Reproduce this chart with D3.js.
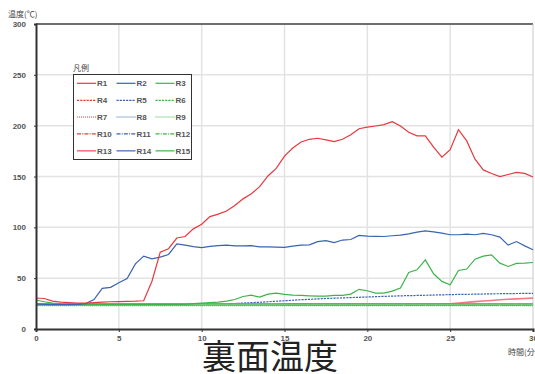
<!DOCTYPE html>
<html>
<head>
<meta charset="utf-8">
<script src="https://cdn.jsdelivr.net/npm/d3@7"></script>
<style>
  html, body { margin: 0; padding: 0; background: #fff; }
  svg { display: block; }
  text { font-family: "Liberation Sans", Arial, sans-serif; }
  .cjk { font-family: "Noto Sans CJK JP", "Noto Sans CJK SC", sans-serif; }
</style>
</head>
<body>
<svg id="chart" width="535" height="374"></svg>
<script>
// time (minutes)
const minutes = [0,0.5,1,1.5,2,2.5,3,3.5,4,4.5,5,5.5,6,6.5,7,7.5,8,8.5,9,9.5,10,10.5,11,11.5,12,12.5,13,13.5,14,14.5,15,15.5,16,16.5,17,17.5,18,18.5,19,19.5,20,20.5,21,21.5,22,22.5,23,23.5,24,24.5,25,25.5,26,26.5,27,27.5,28,28.5,29,29.5,30];

// temperature readings (°C) per sensor
const R1 = [30.5,30,27.5,26.5,26,25.5,25.5,26,26.5,26.8,27,27.2,27.4,27.8,47,75.6,79,89.5,91,98.5,103,110.5,113,116,121.5,128,133,140,150.5,158,170,178,184,186.6,187.6,186,184.3,186.6,191,197,198.5,199.7,201,204,199.7,193.5,190,190,179,169,176.4,196,185,167,156.5,153,150,152,154,153,149.5];
const R2 = [24.5,24.2,24,24,24,24.2,25,29,40,41,45.5,49.7,64,71.7,69,70.7,73.3,83.8,82.5,81,80,81.2,82,82.5,81.7,81.7,82,80.8,80.8,80.5,80.3,81.5,82.5,82.8,86,87,85,87.5,88,92,91.3,91.2,91,91.7,92.3,93.6,95.3,96.6,95.6,94.3,92.7,92.7,93.3,92.7,94,92.7,90.4,82.5,86,81.8,78];
const R3 = [28.5,26.8,25.5,24.8,24.5,24.3,24.2,24.2,24.2,24.2,24.2,24.2,24.2,24.2,24.2,24.2,24.2,24.2,24.3,25,25.5,26,26.5,27.5,29,32,33.3,31.3,34.3,35.3,34,33.3,33,32.6,32.3,32.3,33,33,34.3,39,37.6,35.3,35.3,37.3,40.3,55.6,58.2,68,54.3,46.8,43.5,57.6,59,68.7,71.7,73,64.8,61.5,64.5,64.8,65.4];
const R4 = [24.2,24.1,24,24,24,24,24,24,24,24,24,24,24,24,24,24,24,24,24,24,24,24,24,24,24,24,24,24,24,24,24,24,24,24,24.1,24.1,24.1,24.1,24.1,24.1,24.1,24.1,24.1,24.1,24.1,24.1,24.1,24.1,24.1,24.1,24.1,24.1,24.2,24.2,24.2,24.2,24.2,24.2,24.2,24.2,24.2];
const R5 = [23.8,23.8,23.8,23.8,23.8,23.8,23.8,23.8,23.8,23.8,23.8,23.8,23.8,23.8,23.8,23.8,23.9,23.9,24,24,24.1,24.3,24.5,24.8,25.1,25.5,25.9,26.3,26.8,27.3,27.8,28.3,28.8,29.2,29.6,30,30.3,30.6,30.9,31.2,31.5,31.8,32.1,32.3,32.6,32.8,33,33.2,33.4,33.6,33.8,34,34.1,34.3,34.4,34.6,34.7,34.8,34.9,35,35.1];
const R6 = [23.2,23.2,23.2,23.2,23.2,23.2,23.2,23.2,23.2,23.2,23.2,23.2,23.2,23.2,23.2,23.2,23.2,23.2,23.2,23.2,23.2,23.2,23.2,23.2,23.2,23.2,23.2,23.2,23.2,23.2,23.3,23.3,23.3,23.3,23.3,23.3,23.3,23.3,23.3,23.3,23.3,23.3,23.3,23.3,23.3,23.3,23.3,23.3,23.3,23.3,23.3,23.3,23.3,23.3,23.3,23.3,23.3,23.3,23.3,23.3,23.3];
const R7 = [23.9,23.9,23.8,23.8,23.8,23.8,23.8,23.8,23.8,23.8,23.8,23.8,23.8,23.8,23.8,23.8,23.8,23.8,23.8,23.8,23.8,23.8,23.8,23.8,23.8,23.8,23.8,23.8,23.8,23.8,23.8,23.8,23.8,23.8,23.8,23.8,23.8,23.8,23.8,23.8,23.9,23.9,23.9,23.9,23.9,23.9,23.9,23.9,23.9,23.9,23.9,23.9,23.9,23.9,23.9,23.9,23.9,23.9,23.9,23.9,23.9];
const R8 = [23.6,23.6,23.6,23.6,23.6,23.6,23.6,23.6,23.6,23.6,23.6,23.6,23.6,23.6,23.6,23.6,23.6,23.6,23.6,23.6,23.6,23.6,23.6,23.6,23.6,23.6,23.6,23.6,23.6,23.6,23.7,23.7,23.7,23.7,23.7,23.7,23.7,23.7,23.7,23.7,23.7,23.7,23.7,23.7,23.7,23.7,23.7,23.7,23.7,23.7,23.7,23.7,23.7,23.7,23.7,23.7,23.7,23.7,23.7,23.7,23.7];
const R9 = [23,23,23,23,23,23,23,23,23,23,23,23,23,23,23,23,23,23,23,23,23,23,23,23,23,23,23,23,23,23,23,23,23,23,23,23,23,23,23,23,23,23,23,23,23,23,23,23,23,23,23,23,23,23,23,23,23,23,23,23,23];
const R10 = [24.3,24.3,24.2,24.2,24.2,24.2,24.2,24.2,24.2,24.2,24.2,24.2,24.2,24.2,24.2,24.2,24.2,24.2,24.2,24.2,24.2,24.2,24.2,24.2,24.2,24.2,24.2,24.2,24.2,24.2,24.3,24.3,24.3,24.3,24.3,24.3,24.3,24.3,24.3,24.3,24.3,24.3,24.3,24.3,24.3,24.3,24.3,24.3,24.3,24.3,24.3,24.3,24.3,24.3,24.3,24.3,24.3,24.3,24.3,24.3,24.3];
const R11 = [23.9,23.9,23.9,23.9,23.9,23.9,23.9,23.9,23.9,23.9,23.9,23.9,23.9,23.9,23.9,23.9,23.9,23.9,23.9,23.9,23.9,23.9,23.9,23.9,23.9,23.9,23.9,23.9,23.9,23.9,24,24,24,24,24,24,24,24,24,24,24,24,24,24,24,24,24,24,24,24,24,24,24,24,24,24,24,24,24,24,24];
const R12 = [23.4,23.4,23.4,23.4,23.4,23.4,23.4,23.4,23.4,23.4,23.4,23.4,23.4,23.4,23.4,23.4,23.4,23.4,23.4,23.4,23.4,23.4,23.4,23.4,23.4,23.4,23.4,23.4,23.4,23.4,23.4,23.4,23.4,23.4,23.4,23.4,23.4,23.4,23.4,23.4,23.4,23.4,23.4,23.4,23.4,23.4,23.4,23.4,23.4,23.4,23.4,23.4,23.4,23.4,23.4,23.4,23.4,23.4,23.4,23.4,23.4];
const R13 = [24.8,24.7,24.6,24.6,24.6,24.6,24.6,24.6,24.6,24.6,24.6,24.6,24.6,24.6,24.6,24.6,24.6,24.6,24.6,24.6,24.6,24.6,24.6,24.6,24.6,24.6,24.6,24.6,24.6,24.6,24.6,24.6,24.6,24.6,24.6,24.6,24.6,24.6,24.6,24.6,24.6,24.6,24.6,24.6,24.6,24.6,24.6,24.6,24.6,24.7,24.9,25.5,26.2,26.9,27.5,28.1,28.7,29.2,29.6,30,30.4];
const R14 = [24.4,24.4,24.4,24.4,24.4,24.4,24.4,24.4,24.4,24.4,24.4,24.4,24.4,24.4,24.4,24.4,24.4,24.4,24.4,24.4,24.4,24.4,24.4,24.4,24.4,24.4,24.4,24.4,24.4,24.4,24.5,24.5,24.5,24.5,24.5,24.5,24.5,24.5,24.5,24.5,24.5,24.5,24.5,24.5,24.5,24.5,24.5,24.5,24.5,24.5,24.5,24.5,24.5,24.5,24.5,24.5,24.5,24.5,24.5,24.5,24.5];
const R15 = [23.7,23.7,23.7,23.7,23.7,23.7,23.7,23.7,23.7,23.7,23.7,23.7,23.7,23.7,23.7,23.7,23.7,23.7,23.7,23.7,23.7,23.7,23.7,23.7,23.7,23.7,23.7,23.7,23.7,23.7,23.8,23.8,23.8,23.8,23.8,23.8,23.8,23.8,23.8,23.8,23.8,23.8,23.8,23.8,23.8,23.8,23.8,23.8,23.8,23.8,23.8,23.8,23.8,23.8,23.8,23.8,23.8,23.8,23.8,23.8,23.8];

const seriesNames = ["R1","R2","R3","R4","R5","R6","R7","R8","R9","R10","R11","R12","R13","R14","R15"];
const seriesValues = [R1,R2,R3,R4,R5,R6,R7,R8,R9,R10,R11,R12,R13,R14,R15];

const xTicks = [0,5,10,15,20,25,30];
const yTicks = [0,50,100,150,200,250,300];

const titleText = "裏面温度";
const yTitle = "温度(℃)";
const xTitle = "時間(分)";
const legendTitle = "凡例";

// styles: one colour per column, one dash pattern per row
const palette = ["#e8383d", "#3a63b0", "#3cb44b"];
const lightPalette = ["#f07a7e", "#6a8cca", "#6cc77a"];
const dashRows = [null, "2.2,1", "1,1", "4,1.2,1,1.2", null];

const svg = d3.select("#chart");
const plotLeft = 36, plotRight = 533, plotTop = 24, plotBottom = 329;

const x = d3.scaleLinear().domain([0, 30]).range([plotLeft, plotRight]);
const y = d3.scaleLinear().domain([0, 300]).range([plotBottom, plotTop]);

// grid
const grid = svg.append("g");
grid.selectAll(".vg").data(xTicks.slice(1, -1)).join("line")
  .attr("x1", d => x(d)).attr("x2", d => x(d))
  .attr("y1", plotTop).attr("y2", plotBottom)
  .attr("stroke", "#e3e3e3").attr("stroke-width", 1.5);
grid.selectAll(".hg").data(yTicks.slice(1, -1)).join("line")
  .attr("x1", plotLeft).attr("x2", plotRight)
  .attr("y1", d => y(d)).attr("y2", d => y(d))
  .attr("stroke", "#e3e3e3").attr("stroke-width", 1.5);

// frame top/right
svg.append("line").attr("x1", plotLeft).attr("x2", plotRight).attr("y1", plotTop).attr("y2", plotTop)
  .attr("stroke", "#6e6e6e").attr("stroke-width", 2);
svg.append("line").attr("x1", plotRight).attr("x2", plotRight).attr("y1", plotTop).attr("y2", plotBottom)
  .attr("stroke", "#c8c8c8").attr("stroke-width", 1);

// series
const line = d3.line().x((d, i) => x(minutes[i])).y(d => y(d));
const plot = svg.append("g");
const order = [3,4,5,6,7,8,9,10,11,12,13,14,2,1,0];
order.forEach(k => {
  const row = Math.floor(k / 3), col = k % 3;
  const light = row === 4;
  plot.append("path")
    .datum(seriesValues[k])
    .attr("fill", "none")
    .attr("stroke", light ? lightPalette[col] : palette[col])
    .attr("stroke-width", light ? 1.6 : 1.2)
    .attr("stroke-dasharray", dashRows[row])
    .attr("d", line);
});

// axes
const xAxis = svg.append("g").attr("transform", `translate(0,${plotBottom})`)
  .call(d3.axisBottom(x).tickValues(xTicks).tickSize(3).tickPadding(3));
const yAxis = svg.append("g").attr("transform", `translate(${plotLeft},0)`)
  .call(d3.axisLeft(y).tickValues(yTicks).tickSize(2).tickPadding(8));
[xAxis, yAxis].forEach(a => {
  a.select(".domain").attr("stroke", "#333").attr("stroke-width", 2);
  a.selectAll(".tick line").attr("stroke", "#333").attr("stroke-width", 1);
  a.selectAll(".tick text").attr("fill", "#555").attr("font-size", 8)
    .attr("font-weight", "bold").attr("font-family", "Liberation Sans, Arial, sans-serif");
});

// axis titles
svg.append("text").attr("class", "cjk").attr("x", 8).attr("y", 17)
  .attr("font-size", 8).attr("fill", "#444").text(yTitle);
svg.append("text").attr("class", "cjk").attr("x", 508).attr("y", 355)
  .attr("font-size", 8).attr("fill", "#444").text(xTitle);

// main title
svg.append("text").attr("class", "cjk").attr("x", 270).attr("y", 369)
  .attr("text-anchor", "middle").attr("font-size", 34).attr("fill", "#222").text(titleText);

// legend
const lg = svg.append("g");
lg.append("text").attr("class", "cjk").attr("x", 73).attr("y", 71)
  .attr("font-size", 8).attr("fill", "#444").text(legendTitle);
lg.append("rect").attr("x", 73.5).attr("y", 74.5).attr("width", 118).attr("height", 85)
  .attr("fill", "#fff").attr("stroke", "#333").attr("stroke-width", 1);
const colX = [77, 116.5, 155.5];
const rowY = [83.3, 100.3, 117, 133.8, 150.8];
seriesNames.forEach((name, k) => {
  const row = Math.floor(k / 3), col = k % 3;
  const light = row === 4;
  lg.append("line")
    .attr("x1", colX[col]).attr("x2", colX[col] + 19)
    .attr("y1", rowY[row]).attr("y2", rowY[row])
    .attr("stroke", light ? lightPalette[col] : palette[col])
    .attr("stroke-width", light ? 1.6 : 1.2)
    .attr("stroke-dasharray", dashRows[row]);
  lg.append("text").attr("x", colX[col] + 20).attr("y", rowY[row] + 3)
    .attr("font-size", 8).attr("fill", "#555").attr("font-weight", "bold")
    .text(name);
});
</script>
</body>
</html>
